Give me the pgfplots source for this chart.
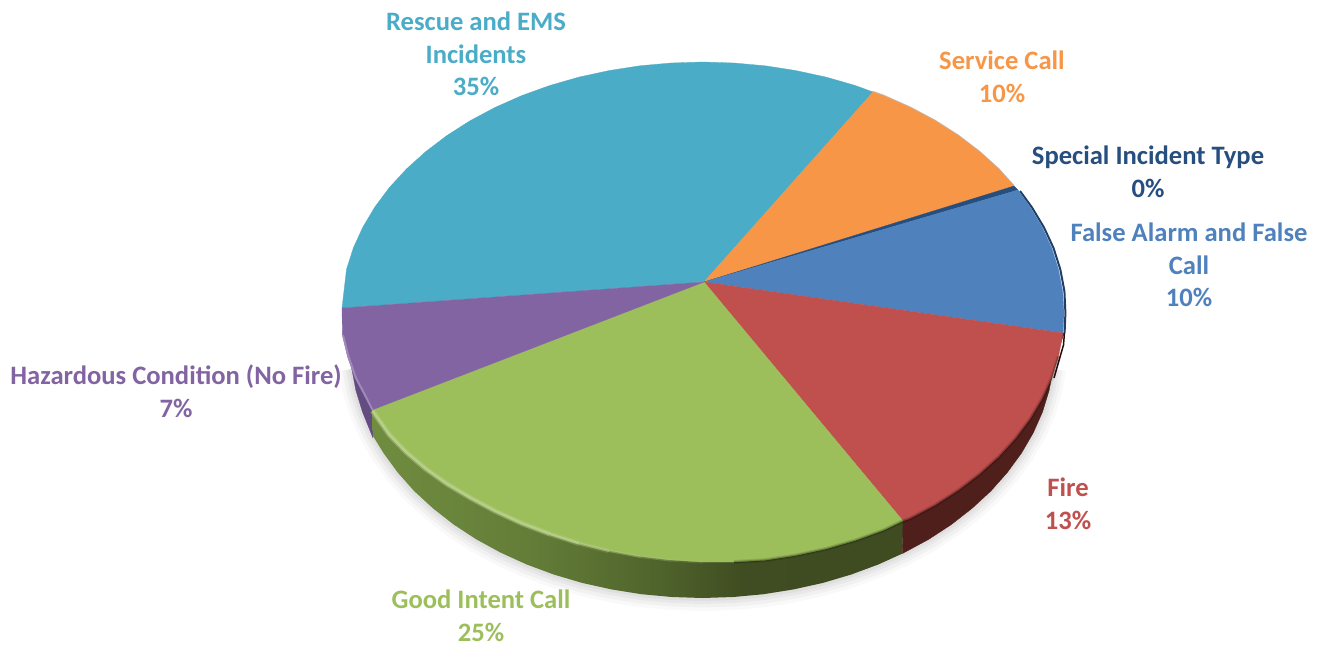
\documentclass[border=0pt]{standalone}
\usepackage{pgfplots}
\usepackage{pgfplotstable}
\usepackage{fontspec}
\setmainfont{Carlito}
\pgfplotsset{compat=1.18}

\definecolor{cRescue}{HTML}{4AACC6}
\definecolor{cService}{HTML}{F79646}
\definecolor{cSpecial}{HTML}{264E7F}
\definecolor{cFalse}{HTML}{4F81BD}
\definecolor{cFire}{HTML}{C0504D}
\definecolor{cGood}{HTML}{9DBF5B}
\definecolor{cHaz}{HTML}{8364A3}
\definecolor{cFireSide}{HTML}{4F1F1C}
\definecolor{cHazSide}{HTML}{634C80}
\definecolor{cFalseSide}{HTML}{203F66}

\tikzset{lab/.style={font=\fontsize{26.6}{32.5}\selectfont\bfseries,align=center,inner sep=0pt}}

\pgfdeclarehorizontalshading{goodsidex}{100bp}{
  rgb(0bp)=(0.44,0.55,0.25);
  rgb(25bp)=(0.44,0.55,0.25);
  rgb(40bp)=(0.39,0.49,0.22);
  rgb(52bp)=(0.31,0.39,0.17);
  rgb(60bp)=(0.25,0.30,0.13);
  rgb(100bp)=(0.24,0.28,0.13)}

% lower edge of the side wall
\pgfplotstableread{
x y
351.8 368.9
355.9 390.6
362.5 412
371.7 432.8
383.5 453.1
397.7 472.5
414.1 491
432.9 508.3
453.6 524.5
476.2 539.3
500.6 552.6
526.5 564.4
553.7 574.5
582.1 582.9
611.4 589.4
641.4 594.2
671.8 597
702.5 598
733.2 597
763.6 594.2
793.6 589.4
822.9 582.9
851.3 574.5
878.5 564.4
904.4 552.6
928.8 539.3
951.4 524.5
972.1 508.3
990.9 491
1007.3 472.5
1021.5 453.1
1033.3 432.8
1042.5 412
1049.1 390.6
1053.2 368.9
}\lowerlip

\begin{document}
\begin{tikzpicture}
\begin{axis}[
  scale only axis,
  width=1319pt,
  height=646pt,
  xmin=0,xmax=1319,
  ymin=0,ymax=646,
  y dir=reverse,
  hide axis,
  clip=true,
  every axis plot/.append style={line join=round}
]
% soft shadow
\addplot[black,opacity=0.025,line width=26pt] table {\lowerlip};
\addplot[black,opacity=0.03,line width=19pt] table {\lowerlip};
\addplot[black,opacity=0.035,line width=12pt] table {\lowerlip};
\addplot[black,opacity=0.04,line width=6pt] table {\lowerlip};

% side walls
\addplot[fill=cHazSide,draw=cHazSide,line width=0.3pt] coordinates {
  (350.5,347)(351.8,368.9)(355.9,390.6)(362.5,412)(373,438)(372,410)(360,340)} --cycle;
\addplot[shading=goodsidex,draw=none] coordinates {
  (372,410)(373,436)(383.5,453.1)(397.7,472.5)(414.1,491)(432.9,508.3)(453.6,524.5)
  (476.2,539.3)(500.6,552.6)(526.5,564.4)(553.7,574.5)(582.1,582.9)(611.4,589.4)
  (641.4,594.2)(671.8,597)(702.5,598)(733.2,597)(763.6,594.2)(793.6,589.4)
  (822.9,582.9)(851.3,574.5)(878.5,564.4)(902.5,553.5)(903,520)(700,450)} --cycle;
\addplot[fill=cFireSide,draw=cFireSide,line width=0.3pt] coordinates {
  (903,520)(902.5,553.5)(928.8,539.3)(951.4,524.5)(972.1,508.3)(990.9,491)
  (1007.3,472.5)(1021.5,453.1)(1033.3,432.8)(1042.5,412)(1049.1,390.6)(1053.2,368.9)
  (1058,352)(1064,333)(900,400)} --cycle;
% thin dark edge on the far right
\addplot[cFalseSide,line width=2pt] coordinates {
  (1020,191)(1032,207.5)(1044,227.5)(1053.5,248)(1060.3,269.4)(1064.4,291.1)(1065.4,313)(1064.6,333)};
\addplot[black!55!cFireSide,line width=1.5pt] coordinates {
  (1064.4,333)(1063.5,345)(1060,357)(1054,378)};
\addplot[black!45,opacity=0.6,line width=1pt] coordinates {
  (873,91.5)(883.3,95.1)(909.9,106.9)(934.9,120.2)(958.1,135)(979.4,151.2)(998.6,168.5)(1014,185.5)};

% top faces
\addplot[fill=cRescue,draw=cRescue,line width=0.3pt] coordinates {
  (704,282)(342,308)(346.5,269.4)(353.3,248)(362.8,227.2)(374.9,206.9)(389.4,187.5)
  (406.4,169)(425.6,151.7)(446.9,135.5)(470.1,120.7)(495.1,107.4)(521.7,95.6)
  (549.7,85.5)(578.9,77.1)(608.9,70.6)(639.7,65.8)(671,63)(702.5,62)(734,63)
  (765.3,65.8)(796.1,70.6)(826.1,77.1)(855.3,85.5)(873,92)} --cycle;
\addplot[fill=cService,draw=cService,line width=0.3pt] coordinates {
  (704,282)(873,92)(883.3,95.6)(909.9,107.4)(934.9,120.7)(958.1,135.5)(979.4,151.7)
  (998.6,169)(1014,186)} --cycle;
\addplot[fill=cSpecial,draw=cSpecial,line width=0.3pt] coordinates {
  (704,282)(1014,186)(1018,190)} --cycle;
\addplot[fill=cFalse,draw=cFalse,line width=0.3pt] coordinates {
  (704,282)(1018,190)(1030.1,206.9)(1042.2,227.2)(1051.7,248)(1058.5,269.4)
  (1062.6,291.1)(1064,313)(1063,333)} --cycle;
\addplot[fill=cFire,draw=cFire,line width=0.3pt] coordinates {
  (704,282)(1063,333)(1058.5,356.6)(1051.7,378)(1042.2,398.8)(1030.1,419.1)
  (1015.6,438.5)(998.6,457)(979.4,474.3)(958.1,490.5)(934.9,505.3)(909.9,518.6)(903,521)} --cycle;
\addplot[fill=cGood,draw=cGood,line width=0.3pt] coordinates {
  (704,282)(903,521)(883.3,530.4)(855.3,540.5)(826.1,548.9)(796.1,555.4)(765.3,560.2)
  (734,562)(702.5,562)(671,560)(639.7,556.2)(608.9,550.4)(578.9,542.9)(549.7,533.5)
  (521.7,522.9)(495.1,510.6)(470.1,497.3)(446.9,483.5)(425.6,468.3)(406.4,452)
  (389.4,434.5)(372,410)} --cycle;
\addplot[fill=cHaz,draw=cHaz,line width=0.3pt] coordinates {
  (704,282)(372,410)(365,397)(355,378)(347.5,356.6)(342.4,334.9)(342,308)} --cycle;

% rim bevel
\addplot[black,opacity=0.10,line width=4pt] coordinates {
  (1058.5,356.6)(1051.7,378)(1042.2,398.8)(1030.1,419.1)(1015.6,438.5)(998.6,457)
  (979.4,474.3)(958.1,490.5)(934.9,505.3)(909.9,518.6)(903,521)(883.3,530.4)
  (855.3,540.5)(826.1,548.9)(796.1,555.4)(765.3,560.2)(734,562)};
\addplot[black,opacity=0.22,line width=1.8pt] coordinates {
  (1058.5,356.6)(1051.7,378)(1042.2,398.8)(1030.1,419.1)(1015.6,438.5)(998.6,457)
  (979.4,474.3)(958.1,490.5)(934.9,505.3)(909.9,518.6)(903,521)(883.3,530.4)
  (855.3,540.5)(826.1,548.9)(796.1,555.4)(765.3,560.2)(734,562)};
% highlight on the green rim, fading to the right
\addplot[white!30!cGood,opacity=0.45,line width=5pt] coordinates {
  (372.5,411)(389.4,435)(406.4,452.5)(425.6,468.8)(446.9,484)(470.1,497.8)(495.1,511.1)
  (521.7,523.4)(549.7,534)};
\addplot[white!30!cGood,opacity=0.3,line width=5pt] coordinates {(549.7,534)(578.9,543.4)};
\addplot[white!30!cGood,opacity=0.15,line width=5pt] coordinates {(578.9,543.4)(608.9,550.9)};
\addplot[white!35!cGood,opacity=0.8,line width=2.2pt] coordinates {
  (372.5,411)(389.4,435)(406.4,452.5)(425.6,468.8)(446.9,484)(470.1,497.8)(495.1,511.1)
  (521.7,523.4)(549.7,534)(578.9,543.4)};
\addplot[white!35!cGood,opacity=0.6,line width=2.2pt] coordinates {(578.9,543.4)(608.9,550.9)};
\addplot[white!35!cGood,opacity=0.42,line width=2.2pt] coordinates {(608.9,550.9)(639.7,556.7)};
\addplot[white!35!cGood,opacity=0.28,line width=2.2pt] coordinates {(639.7,556.7)(671,560.5)};
\addplot[white!35!cGood,opacity=0.14,line width=2.2pt] coordinates {(671,560.5)(702.5,562.5)};
\addplot[white!30!cHaz,opacity=0.8,line width=2pt] coordinates {
  (343,335)(348.5,356.6)(356,378)(366,397)(372.5,410)};

% labels
\node[lab,text=cRescue] at (axis cs:476,54) {Rescue and EMS\\Incidents\\35\%};
\node[lab,text=cService] at (axis cs:1002,77) {Service Call\\10\%};
\node[lab,text=cSpecial] at (axis cs:1148,172) {Special Incident Type\\0\%};
\node[lab,text=cFalse] at (axis cs:1189,265) {False Alarm and False\\Call\\10\%};
\node[lab,text=cFire] at (axis cs:1068,504) {Fire\\13\%};
\node[lab,text=cGood] at (axis cs:481,616) {Good Intent Call\\25\%};
\node[lab,text=cHaz] at (axis cs:176,391) {Hazardous Condition (No Fire)\\7\%};
\end{axis}
% hide axis drops the axis box from the page size
\path (0,0) rectangle (1319pt,646pt);
\end{tikzpicture}
\end{document}
